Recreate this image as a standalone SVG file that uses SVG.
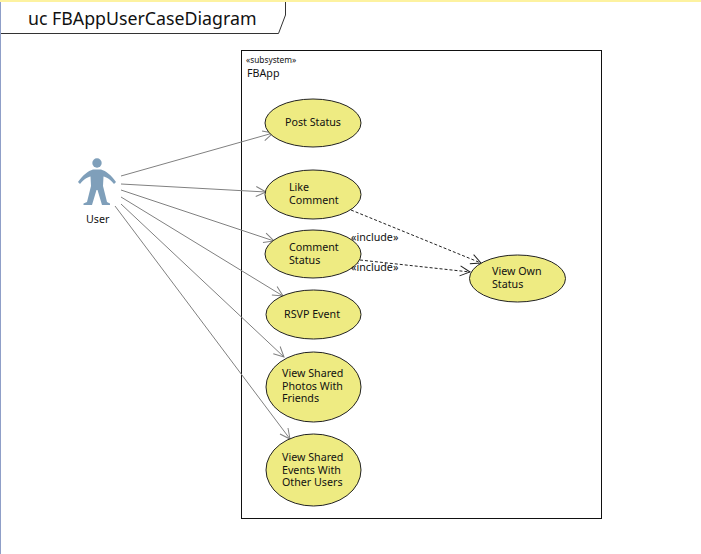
<svg xmlns="http://www.w3.org/2000/svg" width="701" height="554" viewBox="0 0 701 554">
<style>
text{font-family:"Noto Sans","DejaVu Sans",sans-serif;font-size:10.700px;fill:#111}
.uc{fill:#eeeb82;stroke:#222;stroke-width:1}
.as{stroke:#808080;stroke-width:1;fill:none;marker-end:url(#open)}
.inc{stroke:#222;stroke-width:1;fill:none;stroke-dasharray:3 2;marker-end:url(#openD)}
</style>
<defs>
<marker id="open" markerUnits="userSpaceOnUse" markerWidth="14" markerHeight="14" refX="11" refY="6" orient="auto"><path d="M1 1L11 6L1 11" fill="none" stroke="#808080"/></marker>
<marker id="openD" markerUnits="userSpaceOnUse" markerWidth="14" markerHeight="14" refX="11" refY="6" orient="auto"><path d="M1 1L11 6L1 11" fill="none" stroke="#222"/></marker>
</defs>
<rect width="701" height="554" fill="#fff"/>
<rect width="701" height="2" fill="#fdf2a0"/>
<rect y="2" width="1" height="552" fill="#8f9fc8"/>
<g id="frame">
<path d="M1 33.500H278.500L285.500 15V2" fill="#fff" stroke="#333"/>
<text x="28" y="25" style="font-size:17.750px">uc FBAppUserCaseDiagram</text>
</g>
<g id="subsystem">
<rect x="241.500" y="50.500" width="360" height="468" fill="#fff" stroke="#111"/>
<text x="246" y="63" style="font-size:8.300px">«subsystem»</text>
<text x="247" y="77">FBApp</text>
</g>
<g id="connectors">
<path class="as" d="M121 176L273 133"/>
<path class="as" d="M121 184L266 192"/>
<path class="as" d="M121 190L274 241"/>
<path class="as" d="M121 197L283 296"/>
<path class="as" d="M121 204L284 357"/>
<path class="as" d="M115 206L290 439"/>
<path class="inc" d="M351 210L481 263"/>
<path class="inc" d="M360 260L470 272"/>
</g>
<g id="user">
<circle cx="97" cy="163" r="4.700" fill="#7f9fba"/>
<path d="M78 182C83 175 88 171 93 169.500H101C106 171 111 175 116 182L114 184C110 179 106 177 103.500 176.500L103 186L107 202L110 203.500V205H102L97.500 190H96.500L92 205H83.500V203.500L87 202L91 186L90.500 176.500C88 177 84 179 80 184Z" fill="#7f9fba"/>
<text x="86" y="223">User</text>
</g>
<g id="post-status"><ellipse class="uc" cx="313" cy="123" rx="48" ry="24"/><text x="285" y="126">Post Status</text></g>
<g id="like-comment"><ellipse class="uc" cx="313" cy="194.500" rx="48" ry="24.500"/><text x="289" y="191">Like</text><text x="289" y="204">Comment</text></g>
<g id="comment-status"><ellipse class="uc" cx="313" cy="254" rx="48" ry="24"/><text x="289" y="251">Comment</text><text x="289" y="264">Status</text></g>
<g id="rsvp-event"><ellipse class="uc" cx="313.500" cy="314.500" rx="47.500" ry="24.500"/><text x="284" y="318">RSVP Event</text></g>
<g id="view-photos"><ellipse class="uc" cx="313.500" cy="387" rx="47.500" ry="35"/><text x="282" y="377">View Shared</text><text x="282" y="389.500">Photos With</text><text x="282" y="402">Friends</text></g>
<g id="view-events"><ellipse class="uc" cx="313.500" cy="470" rx="47.500" ry="36"/><text x="282" y="461">View Shared</text><text x="282" y="473.500">Events With</text><text x="282" y="486">Other Users</text></g>
<g id="view-own-status"><ellipse class="uc" cx="517.500" cy="278.500" rx="48" ry="23.500"/><text x="492" y="275">View Own</text><text x="492" y="288">Status</text></g>
<g id="labels"><text x="351" y="241">«include»</text><text x="351" y="271">«include»</text></g>
</svg>
